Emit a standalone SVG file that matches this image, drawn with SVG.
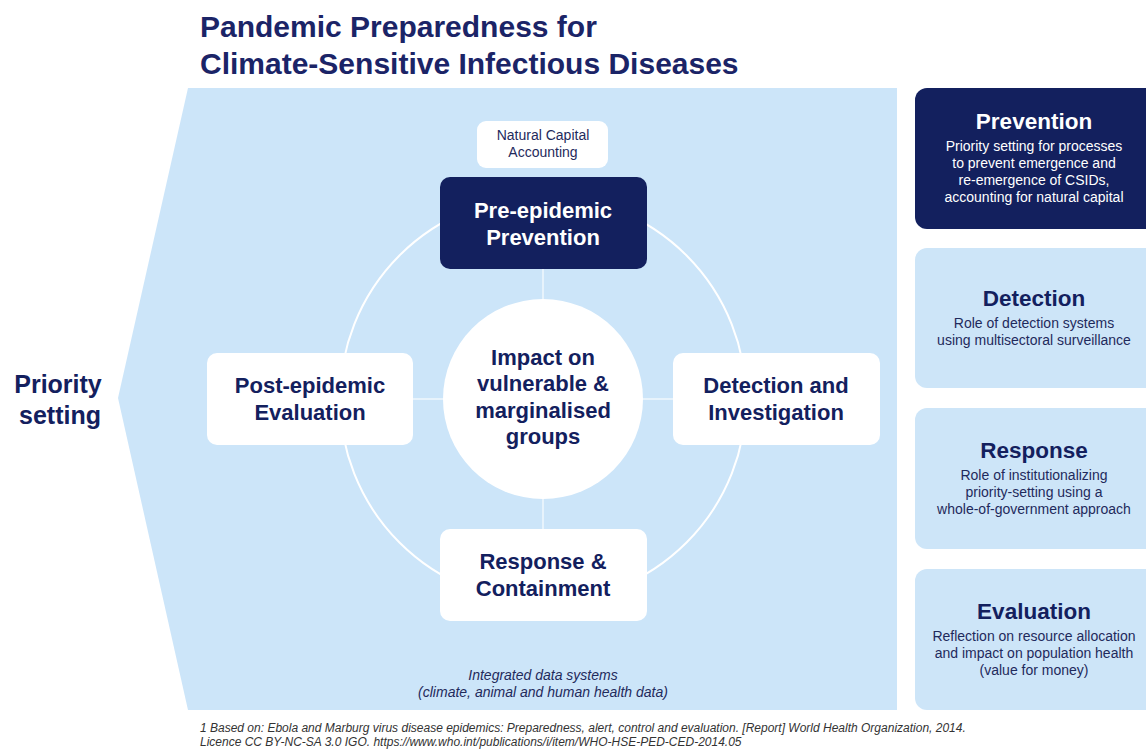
<svg xmlns="http://www.w3.org/2000/svg" width="1146" height="749" viewBox="0 0 1146 749">
<style>
text{font-family:"Liberation Sans",Arial,sans-serif;}
.title{font-size:30px;font-weight:bold;fill:#1b2467;}
.big{font-size:22px;font-weight:bold;fill:#13205e;text-anchor:middle;}
.bigw{font-size:22px;font-weight:bold;fill:#ffffff;text-anchor:middle;}
.small{font-size:14px;fill:#1f2a5c;text-anchor:middle;}
.ital{font-size:14px;font-style:italic;fill:#1f2a5c;text-anchor:middle;}
.head{font-size:22.5px;font-weight:bold;fill:#13205e;text-anchor:middle;}
.headw{font-size:22.5px;font-weight:bold;fill:#ffffff;text-anchor:middle;}
.body{font-size:14px;fill:#1f2a5c;text-anchor:middle;}
.bodyw{font-size:14px;fill:#ffffff;text-anchor:middle;}
.foot{font-size:12px;font-style:italic;fill:#333333;}
.wbox{fill:#ffffff;}
.nbox{fill:#13205e;}
.lbox{fill:#cde5f8;}
.conn{stroke:#ffffff;stroke-width:2;fill:none;}
.cross{stroke:#ffffff;stroke-width:1.5;stroke-opacity:0.7;fill:none;}
</style>
<rect x="0" y="0" width="1146" height="749" fill="#ffffff"/>
<g id="title">
<text class="title" x="200" y="37">Pandemic Preparedness for</text>
<text class="title" x="200" y="74">Climate-Sensitive Infectious Diseases</text>
</g>
<g id="background">
<polygon points="188,88 897,88 897,710 188,710 118,398" fill="#cce5f9"/>
</g>
<g id="priority-setting">
<text x="58" y="393" style="font-size:25px;font-weight:bold;fill:#13205e;text-anchor:middle">Priority</text>
<text x="60" y="424" style="font-size:25px;font-weight:bold;fill:#13205e;text-anchor:middle">setting</text>
</g>
<g id="connectors">
<circle class="conn" cx="543" cy="399" r="203"/>
<line class="cross" x1="543" y1="269" x2="543" y2="299"/>
<line class="cross" x1="543" y1="499" x2="543" y2="529"/>
<line class="cross" x1="413" y1="399" x2="443" y2="399"/>
<line class="cross" x1="643" y1="399" x2="673" y2="399"/>
</g>
<g id="natural-capital">
<rect class="wbox" x="477" y="121" width="131" height="47" rx="9"/>
<text class="small" x="543" y="140">Natural Capital</text>
<text class="small" x="543" y="157">Accounting</text>
</g>
<g id="pre-epidemic">
<rect class="nbox" x="440" y="177" width="207" height="92" rx="10"/>
<text class="bigw" x="543" y="218">Pre-epidemic</text>
<text class="bigw" x="543" y="245">Prevention</text>
</g>
<g id="post-epidemic">
<rect class="wbox" x="207" y="353" width="206" height="92" rx="10"/>
<text class="big" x="310" y="393">Post-epidemic</text>
<text class="big" x="310" y="420">Evaluation</text>
</g>
<g id="detection-investigation">
<rect class="wbox" x="673" y="353" width="207" height="92" rx="10"/>
<text class="big" x="776" y="393">Detection and</text>
<text class="big" x="776" y="420">Investigation</text>
</g>
<g id="response-containment">
<rect class="wbox" x="440" y="529" width="207" height="92" rx="10"/>
<text class="big" x="543" y="569">Response &amp;</text>
<text class="big" x="543" y="596">Containment</text>
</g>
<g id="impact">
<circle cx="543" cy="399" r="100" fill="#ffffff"/>
<text class="big" x="543" y="365">Impact on</text>
<text class="big" x="543" y="391">vulnerable &amp;</text>
<text class="big" x="543" y="418">marginalised</text>
<text class="big" x="543" y="444">groups</text>
</g>
<g id="data-systems">
<text class="ital" x="543" y="680">Integrated data systems</text>
<text class="ital" x="543" y="697">(climate, animal and human health data)</text>
</g>
<g id="panel-prevention">
<rect class="nbox" x="915" y="88" width="250" height="141" rx="12"/>
<text class="headw" x="1034" y="129">Prevention</text>
<text class="bodyw" x="1034" y="151">Priority setting for processes</text>
<text class="bodyw" x="1034" y="168">to prevent emergence and</text>
<text class="bodyw" x="1034" y="185">re-emergence of CSIDs,</text>
<text class="bodyw" x="1034" y="202">accounting for natural capital</text>
</g>
<g id="panel-detection">
<rect class="lbox" x="915" y="248" width="250" height="140" rx="12"/>
<text class="head" x="1034" y="306">Detection</text>
<text class="body" x="1034" y="328">Role of detection systems</text>
<text class="body" x="1034" y="345">using multisectoral surveillance</text>
</g>
<g id="panel-response">
<rect class="lbox" x="915" y="408" width="250" height="141" rx="12"/>
<text class="head" x="1034" y="458">Response</text>
<text class="body" x="1034" y="480">Role of institutionalizing</text>
<text class="body" x="1034" y="497">priority-setting using a</text>
<text class="body" x="1034" y="514">whole-of-government approach</text>
</g>
<g id="panel-evaluation">
<rect class="lbox" x="915" y="569" width="250" height="141" rx="12"/>
<text class="head" x="1034" y="619">Evaluation</text>
<text class="body" x="1034" y="641">Reflection on resource allocation</text>
<text class="body" x="1034" y="658">and impact on population health</text>
<text class="body" x="1034" y="675">(value for money)</text>
</g>
<g id="footer">
<text class="foot" x="200" y="732">1 Based on: Ebola and Marburg virus disease epidemics: Preparedness, alert, control and evaluation. [Report] World Health Organization, 2014.</text>
<text class="foot" x="200" y="746">Licence CC BY-NC-SA 3.0 IGO. https://www.who.int/publications/i/item/WHO-HSE-PED-CED-2014.05</text>
</g>
</svg>
